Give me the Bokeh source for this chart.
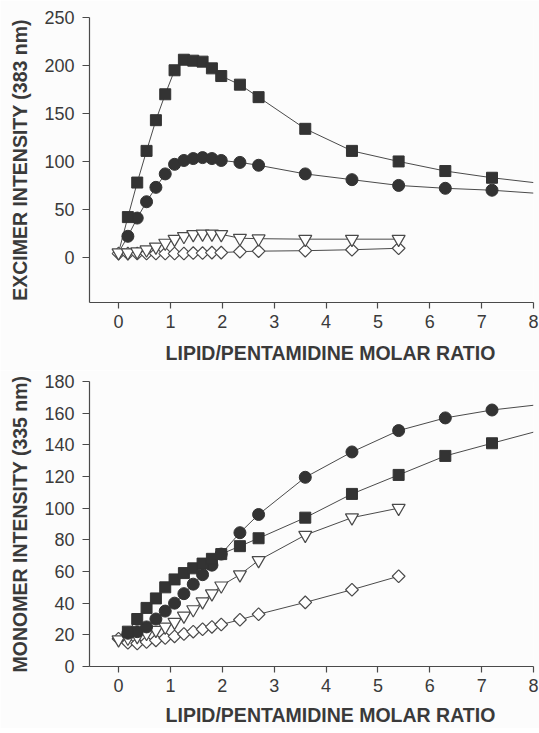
import math
from bokeh.plotting import figure
from bokeh.layouts import column
from bokeh.models import FixedTicker, Range1d
from bokeh.embed import file_html
from bokeh.resources import INLINE

# ---------------- data ----------------
# lipid/pentamidine molar ratio of the filled series (squares, circles)
ratio_filled = [0.18, 0.36, 0.54, 0.72, 0.90, 1.08, 1.26, 1.44, 1.62, 1.80, 1.98,
                2.34, 2.70, 3.60, 4.50, 5.40, 6.30, 7.20]
# ratio of the open series (triangles, diamonds)
ratio_open = [0.0, 0.18, 0.36, 0.54, 0.72, 0.90, 1.08, 1.26, 1.44, 1.62, 1.80, 1.98,
              2.34, 2.70, 3.60, 4.50, 5.40]
# fitted curves of the filled series start at ratio 0 and run to the axis end
curve_start = 0.0
curve_end = 8.0

# excimer intensity (383 nm)
exc_start = 5
exc_square = [42, 78, 111, 143, 170, 195, 206, 205, 204, 197, 189, 180, 167, 134, 111, 100, 90, 83]
exc_square_end = 78
exc_circle = [22, 41, 58, 73, 87, 97, 101, 103, 104, 103, 101, 99, 96, 87, 81, 75, 72, 70]
exc_circle_end = 67
exc_triangle = [5, 5, 6, 8, 11, 15, 19, 22, 24, 24.5, 24.5, 24, 20, 19.5, 19, 19, 19]
exc_diamond = [4, 4, 4, 4, 4, 4, 4, 4, 4.5, 4.5, 5, 5, 6, 6.5, 7, 8, 9.5]

# monomer intensity (335 nm)
mon_start = 17.5
mon_square = [22, 30, 37, 43, 50, 55, 59, 62, 65, 68, 71, 76, 81, 94, 109, 121, 133, 141]
mon_square_end = 148
mon_circle = [21, 22, 25, 30, 35, 40, 46, 52, 58, 64, 71, 84.5, 96, 119.5, 135.5, 149, 157, 162]
mon_circle_end = 165
mon_triangle = [17, 18, 19, 21, 23, 25, 28, 32, 36, 41, 46, 51, 58, 67, 83, 94, 100]
mon_diamond = [17.5, 15, 14.5, 15.5, 16.5, 18, 19, 20.5, 22, 23.5, 25, 26.5, 29.5, 33, 40.5, 48.5, 57]

x_ticks = [0, 1, 2, 3, 4, 5, 6, 7, 8]
exc_ticks = [0, 50, 100, 150, 200, 250]
mon_ticks = [0, 20, 40, 60, 80, 100, 120, 140, 160, 180]

x_title = "\u00a0" * 7 + "LIPID/PENTAMIDINE MOLAR RATIO"
exc_title = "EXCIMER INTENSITY (383 nm)"
mon_title = "MONOMER INTENSITY (335 nm)"

# ---------------- style ----------------
BG = "#fcfcfc"
INK = "#3a3a3a"
LINE = "#4a4a4a"
FONT = "Liberation Sans"


def make_fig(y_lo, y_hi, yticks, ytitle, top_border, bottom_border, title_standoff):
    p = figure(frame_width=444, frame_height=285,
               x_range=Range1d(-0.56, 8.0), y_range=Range1d(y_lo, y_hi),
               output_backend="svg", toolbar_location=None,
               min_border_left=89, min_border_right=6,
               min_border_top=top_border, min_border_bottom=bottom_border,
               background_fill_color=BG, border_fill_color=BG)
    p.outline_line_color = None
    p.grid.visible = False
    for ax in (p.xaxis[0], p.yaxis[0]):
        ax.axis_line_color = LINE
        ax.axis_line_width = 1.2
        ax.major_tick_line_color = LINE
        ax.major_tick_line_width = 1.2
        ax.major_tick_in = 0
        ax.minor_tick_line_color = None
        ax.major_label_text_font = FONT
        ax.major_label_text_font_size = "18px"
        ax.major_label_text_color = INK
        ax.axis_label_text_font = FONT
        ax.axis_label_text_font_size = "19.5px"
        ax.axis_label_text_font_style = "bold"
        ax.axis_label_text_color = INK
    p.xaxis.ticker = FixedTicker(ticks=x_ticks)
    p.xaxis.major_tick_out = 6
    p.xaxis.major_label_standoff = 6
    p.xaxis.axis_label_standoff = title_standoff
    p.xaxis.axis_label = x_title
    p.yaxis.ticker = FixedTicker(ticks=yticks)
    p.yaxis.major_tick_out = 7
    p.yaxis.major_label_standoff = 8
    p.yaxis.axis_label_standoff = 10
    p.yaxis.axis_label = ytitle
    return p


def draw(p, start, sq, sq_end, ci, ci_end, tri, dia):
    # fitted curves through the filled series
    p.line([curve_start] + ratio_filled + [curve_end], [start] + sq + [sq_end],
           line_color=LINE, line_width=1)
    p.line([curve_start] + ratio_filled + [curve_end], [start] + ci + [ci_end],
           line_color=LINE, line_width=1)
    p.line(ratio_open, tri, line_color=LINE, line_width=1)
    p.line(ratio_open, dia, line_color=LINE, line_width=1)
    p.scatter(ratio_open, dia, marker="square", angle=math.pi / 4, size=9,
              fill_color="white", line_color=LINE, line_width=1.2)
    p.scatter(ratio_open, tri, marker="inverted_triangle", size=13,
              fill_color="white", line_color=LINE, line_width=1.2)
    p.scatter(ratio_filled, ci, marker="circle", size=12,
              fill_color="#333333", line_color="#333333")
    p.scatter(ratio_filled, sq, marker="square", size=11,
              fill_color="#333333", line_color="#333333")


p1 = make_fig(-47, 250, exc_ticks, exc_title, 17, 68, 11)
draw(p1, exc_start, exc_square, exc_square_end, exc_circle, exc_circle_end,
     exc_triangle, exc_diamond)

p2 = make_fig(0, 180, mon_ticks, mon_title, 11, 62, 9)
draw(p2, mon_start, mon_square, mon_square_end, mon_circle, mon_circle_end,
     mon_triangle, mon_diamond)

layout = column(p1, p2, spacing=0)
open("out.html", "w").write(file_html(layout, INLINE))
